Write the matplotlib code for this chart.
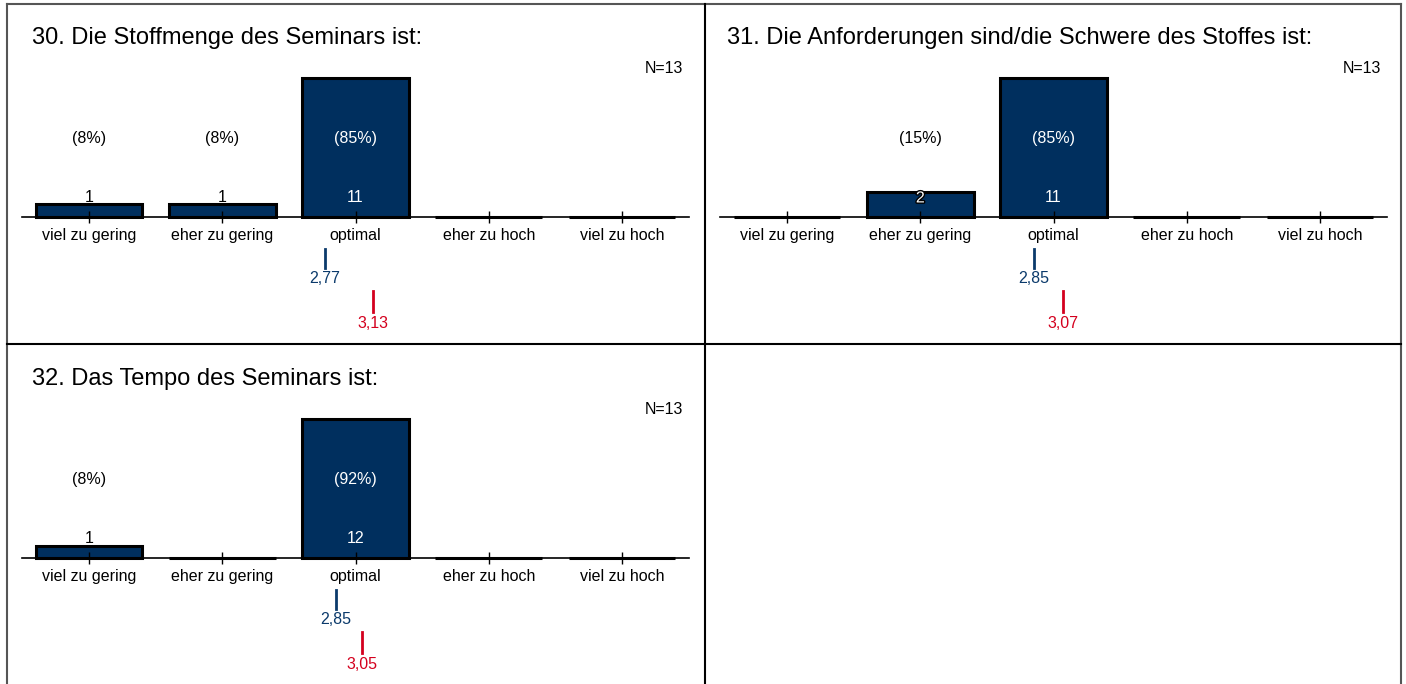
import matplotlib
matplotlib.use("Agg")
import matplotlib.pyplot as plt
import matplotlib.transforms as mtransforms
import matplotlib.patheffects as pe
from matplotlib.lines import Line2D

plt.rcParams['font.family'] = ['Liberation Sans', 'DejaVu Sans']

# Daten
categories = ["viel zu gering", "eher zu gering", "optimal", "eher zu hoch", "viel zu hoch"]
titles = ["30. Die Stoffmenge des Seminars ist:",
          "31. Die Anforderungen sind/die Schwere des Stoffes ist:",
          "32. Das Tempo des Seminars ist:"]
counts_30 = [1, 1, 11, 0, 0]
counts_31 = [0, 2, 11, 0, 0]
counts_32 = [1, 0, 12, 0, 0]
pct_30 = [8, 8, 85, 0, 0]
pct_31 = [0, 15, 85, 0, 0]
pct_32 = [8, 0, 92, 0, 0]
n_values = [13, 13, 13]
mean_blue = [2.77, 2.85, 2.85]
mean_red = [3.13, 3.07, 3.05]

bar_color = "#002F5E"
blue = "#0B3A6B"
red = "#D4001E"

W, H = 1406, 684
fig = plt.figure(figsize=(W / 100, H / 100), dpi=100)


def fx(px):
    return px / W


def fy(py):
    return 1 - py / H


# Panel-Positionen in Pixeln: (links, rechts, Grundlinie, Titel-x)
panels = [
    (22.4, 688.6, 217, 32),
    (720.4, 1386.6, 217, 727),
    (22.4, 688.6, 558, 32),
]
all_counts = [counts_30, counts_31, counts_32]
all_pct = [pct_30, pct_31, pct_32]
bar_h = 139

for i, (L, R, B, tx) in enumerate(panels):
    counts = all_counts[i]
    pct = all_pct[i]
    ax = fig.add_axes([fx(L), fy(B), (R - L) / W, bar_h / H])
    x = list(range(1, len(categories) + 1))
    cmax = max(counts)
    ax.bar(x, counts, width=0.8, color=bar_color, edgecolor="black", linewidth=2.2,
           zorder=3, clip_on=False)
    ax.set_xlim(0.5, 5.5)
    ax.set_ylim(0, cmax)
    for s in ["top", "left", "right"]:
        ax.spines[s].set_visible(False)
    ax.spines["bottom"].set_linewidth(1.2)
    ax.spines["bottom"].set_zorder(1)
    ax.set_yticks([])
    ax.set_xticks(x)
    ax.set_xticklabels(categories, fontsize=11.5)
    ax.tick_params(axis="x", direction="inout", length=8, width=1, pad=4)
    ax.xaxis.set_zorder(4)
    ax.patch.set_alpha(0)

    trans = mtransforms.blended_transform_factory(ax.transData, ax.transAxes)
    for xi, c, p in zip(x, counts, pct):
        if c == 0:
            continue
        frac = c / cmax
        # Anzahl
        col = "white" if frac > 0.137 else "black"
        t = ax.text(xi, 0.137, str(c), transform=trans, ha="center", va="center",
                    fontsize=11.5, color=col, zorder=5)
        if col == "white" and frac < 0.3:
            t.set_path_effects([pe.withStroke(linewidth=2, foreground="black")])
        # Prozent
        col = "white" if frac > 0.568 else "black"
        ax.text(xi, 0.568, f"({p}%)", transform=trans, ha="center", va="center",
                fontsize=11.5, color=col, zorder=5)

    ax.text(1.0 - 5.6 / (R - L), 1.065, f"N={n_values[i]}", transform=ax.transAxes,
            ha="right", va="center", fontsize=11.5)

    # Mittelwerte
    mb = mean_blue[i]
    mr = mean_red[i]
    ax.plot([mb, mb], [-0.230, -0.367], transform=trans, color=blue, lw=2, clip_on=False)
    ax.text(mb, -0.446, f"{mb:.2f}".replace(".", ","), transform=trans, ha="center",
            va="center", fontsize=11.5, color=blue)
    ax.plot([mr, mr], [-0.532, -0.683], transform=trans, color=red, lw=2, clip_on=False)
    ax.text(mr, -0.763, f"{mr:.2f}".replace(".", ","), transform=trans, ha="center",
            va="center", fontsize=11.5, color=red)

    fig.text(fx(tx), fy(B - 179), titles[i], ha="left", va="center", fontsize=17)

# Rahmen
gray = "#555555"
lines = [
    ([7, 7], [4, 684], gray),
    ([7, 1401], [4, 4], gray),
    ([1401, 1401], [4, 684], gray),
    ([705, 705], [4, 684], "black"),
    ([7, 1401], [344, 344], "black"),
]
for xs, ys, c in lines:
    fig.add_artist(Line2D([fx(v) for v in xs], [fy(v) for v in ys], color=c, lw=1.5,
                          transform=fig.transFigure))

fig.savefig("out.png", dpi=100)
